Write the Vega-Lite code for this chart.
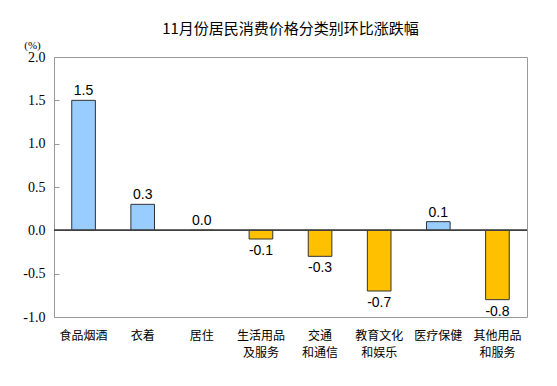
{
  "$schema": "https://vega.github.io/schema/vega-lite/v6.json",
  "width": 473,
  "height": 260,
  "autosize": {"type": "none"},
  "padding": {"left": 54, "top": 57, "right": 30, "bottom": 69},
  "background": "white",
  "title": {
    "text": "11月份居民消费价格分类别环比涨跌幅",
    "font": "Noto Sans CJK SC",
    "fontSize": 15,
    "fontWeight": "normal",
    "color": "#000000",
    "anchor": "middle",
    "offset": 2
  },
  "data": {
    "values": [
      {"cat": "食品烟酒", "value": 1.5},
      {"cat": "衣着", "value": 0.3},
      {"cat": "居住", "value": 0.0},
      {"cat": "生活用品|及服务", "value": -0.1},
      {"cat": "交通|和通信", "value": -0.3},
      {"cat": "教育文化|和娱乐", "value": -0.7},
      {"cat": "医疗保健", "value": 0.1},
      {"cat": "其他用品|和服务", "value": -0.8}
    ]
  },
  "transform": [
    {"calculate": "replace(format(datum.value, '.1f'), '\u2212', '-')", "as": "label"}
  ],
  "config": {
    "view": {"stroke": "#999999", "strokeWidth": 1}
  },
  "encoding": {
    "x": {
      "field": "cat",
      "type": "nominal",
      "sort": null,
      "scale": {"paddingInner": 0.6, "paddingOuter": 0.3},
      "axis": {
        "title": null,
        "labelAngle": 0,
        "labelExpr": "split(datum.label, '|')",
        "labelFont": "Noto Sans CJK SC",
        "labelFontSize": 12,
        "labelLineHeight": 17,
        "labelColor": "#000000",
        "labelPadding": 13,
        "ticks": false,
        "domain": false
      }
    }
  },
  "layer": [
    {
      "mark": {"type": "bar", "stroke": "#333333", "strokeWidth": 1},
      "encoding": {
        "y": {
          "field": "value",
          "type": "quantitative",
          "scale": {"domain": [-1, 2], "nice": false},
          "axis": {
            "title": "(%)",
            "titleAngle": 0,
            "titleFont": "Liberation Serif",
            "titleFontSize": 11,
            "titleFontWeight": "normal",
            "titleColor": "#000000",
            "titleX": -22,
            "titleY": -12,
            "titleAlign": "center",
            "titleBaseline": "middle",
            "values": [-1, -0.5, 0, 0.5, 1, 1.5, 2],
            "format": ".1f",
            "labelExpr": "replace(datum.label, '\u2212', '-')",
            "grid": false,
            "domain": false,
            "tickSize": -5,
            "tickColor": "#999999",
            "labelFont": "Liberation Serif",
            "labelFontSize": 14,
            "labelColor": "#000000",
            "labelPadding": 14
          }
        },
        "color": {
          "condition": {"test": "datum.value >= 0", "value": "#99CCFF"},
          "value": "#FFC000"
        }
      }
    },
    {
      "mark": {"type": "rule", "color": "#404040", "strokeWidth": 1},
      "encoding": {"y": {"datum": 0, "type": "quantitative"}, "x": {"value": 0}, "x2": {"value": 473}}
    },
    {
      "transform": [{"filter": "datum.value >= 0"}],
      "mark": {"type": "text", "font": "Liberation Sans", "fontSize": 14, "baseline": "alphabetic", "dy": -5, "color": "#000000"},
      "encoding": {
        "y": {"field": "value", "type": "quantitative"},
        "text": {"field": "label", "type": "nominal"}
      }
    },
    {
      "transform": [{"filter": "datum.value < 0"}],
      "mark": {"type": "text", "font": "Liberation Sans", "fontSize": 14, "baseline": "top", "dy": 5, "color": "#000000"},
      "encoding": {
        "y": {"field": "value", "type": "quantitative"},
        "text": {"field": "label", "type": "nominal"}
      }
    }
  ]
}
